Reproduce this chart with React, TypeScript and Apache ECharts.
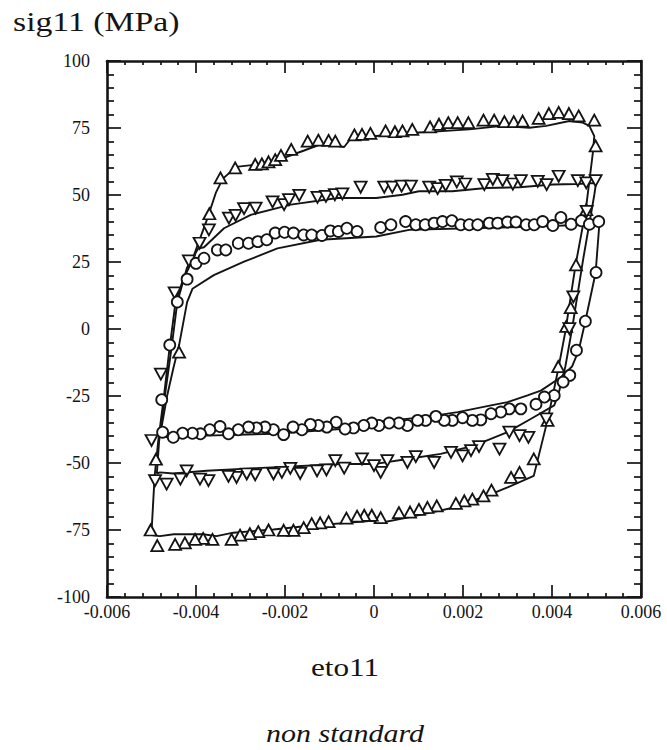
import React, { useEffect, useRef } from "react";
import * as echarts from "echarts";

// Strain eto11 (x) and stress sig11 in MPa (y)
const xTicks = [-0.006, -0.004, -0.002, 0, 0.002, 0.004, 0.006];
const yTicks = [-100, -75, -50, -25, 0, 25, 50, 75, 100];

// Simulation curves (solid lines)
const simA: [number, number][] = [
  [-0.005, -76], [-0.00493, -55], [-0.00485, -42], [-0.00472, -25], [-0.0046, -8],
  [-0.00446, 10], [-0.0043, 18], [-0.0041, 25], [-0.00397, 31], [-0.00375, 41],
  [-0.00355, 51], [-0.0034, 56], [-0.0031, 60.5], [-0.00262, 61.4], [-0.00202, 63.9],
  [-0.00157, 66.6], [-0.0012, 68.9], [-0.00082, 68.3], [-0.00067, 67.9], [-0.00048, 72],
  [0.00005, 72], [0.00101, 73.3], [0.00214, 74.5], [0.00289, 75.8], [0.00349, 75.1],
  [0.00387, 75.8], [0.00439, 77.6], [0.00469, 77], [0.00484, 75.8], [0.00495, 72],
  [0.00492, 66], [0.00476, 44.5], [0.00453, 23.9], [0.0043, -1], [0.00414, -15],
  [0.0039, -34], [0.00359, -54.8], [0.003, -59.1], [0.00263, -61.6], [0.0018, -66.6],
  [0.00075, -70.4], [0.00015, -72.3], [-0.00005, -71.6], [-0.0015, -73.5], [-0.00226, -74.8],
  [-0.00316, -76], [-0.00354, -77.3], [-0.00384, -76.6], [-0.0045, -76.6], [-0.00481, -77.3],
  [-0.00497, -77], [-0.005, -76]
];
const simB: [number, number][] = [
  [-0.00488, -54], [-0.00483, -42], [-0.0047, -25], [-0.00455, -7], [-0.00442, 10],
  [-0.0042, 23], [-0.00395, 30], [-0.00382, 30.5], [-0.00337, 37.6], [-0.00277, 42.6],
  [-0.00187, 46.4], [-0.00082, 48.9], [0.00005, 48.9], [0.00064, 50.1], [0.00101, 51.4],
  [0.00176, 51.4], [0.00252, 52.6], [0.00327, 52.9], [0.00402, 53.9], [0.00454, 54.1],
  [0.00499, 54.5], [0.00495, 50], [0.0047, 26], [0.00445, 0], [0.0043, -14],
  [0.00415, -24], [0.00405, -28.5], [0.00353, -33.5], [0.003, -38.5], [0.00225, -43.5],
  [0.0015, -46.6], [0.00075, -48.5], [0, -50.4], [-0.00076, -50.4], [-0.00151, -51],
  [-0.00264, -51.9], [-0.00376, -52.9], [-0.00451, -53.9], [-0.00481, -53.5], [-0.00488, -54]
];
const simC: [number, number][] = [
  [-0.0048, -39], [-0.00465, -25], [-0.0045, -14], [-0.00438, -6], [-0.0042, 10],
  [-0.00408, 15], [-0.0036, 20.1], [-0.00292, 25.1], [-0.00217, 30.1], [-0.0012, 33.3],
  [0.00005, 34.5], [0.00079, 37], [0.00214, 37.6], [0.00364, 38.2], [0.00469, 38.9],
  [0.00507, 40.4], [0.00498, 21], [0.00475, 3], [0.0046, -8], [0.00445, -14],
  [0.0042, -18], [0.00375, -23], [0.00345, -24.8], [0.003, -27.3], [0.00263, -28.5],
  [0.00188, -31], [0.00113, -32.9], [0.00038, -34.1], [0, -34.8], [-0.00076, -37.3],
  [-0.00226, -39.1], [-0.00376, -39.8], [-0.00466, -40.4], [-0.0048, -39]
];

// Experimental points
const expUp: [number, number][] = [
  [-0.00502, -75], [-0.0049, -48.6], [-0.00438, -8.6], [-0.0037, 43],
  [-0.00345, 56.4], [-0.00312, 60.1], [-0.00267, 61.4], [-0.00252, 61.6], [-0.00237, 62.4],
  [-0.00222, 63.2], [-0.00209, 64.8], [-0.00186, 67], [-0.00149, 70.1], [-0.00125, 70.5],
  [-0.00102, 70.4], [-0.00087, 70.1], [-0.00044, 72.4], [-0.00027, 72.6], [-0.00008, 73],
  [0.00026, 73.9], [0.00047, 73.6], [0.00064, 73.9], [0.00086, 74.5], [0.00126, 75.4],
  [0.00146, 76.4], [0.00167, 77], [0.00188, 77], [0.00212, 77], [0.00246, 77.9],
  [0.0027, 77.9], [0.00293, 77.4], [0.00314, 77.4], [0.00334, 77.6], [0.0037, 78.6],
  [0.00393, 80.4], [0.00415, 80.8], [0.00438, 80.4], [0.0046, 79.5], [0.00495, 77.9],
  [0.00498, 68.3], [0.00477, 44.5], [0.00454, 23.9], [0.00442, 8], [0.00432, 1],
  [0.00414, -14], [0.0039, -34.1], [0.00359, -48.5], [0.00327, -53.5], [0.00308, -55.4],
  [0.00264, -60.1], [0.00246, -62.3], [0.00221, -63.5], [0.00203, -64.1], [0.00184, -65.1],
  [0.00141, -66], [0.0012, -66.6], [0.00101, -67.3], [0.00081, -68.3], [0.00056, -68.5],
  [0.00015, -70.4], [-0.00005, -69.5], [-0.00022, -69.5], [-0.00038, -69.8], [-0.00062, -70.6],
  [-0.00102, -71.9], [-0.00121, -72.3], [-0.0014, -72.6], [-0.00158, -74.1], [-0.00181, -75.1],
  [-0.00203, -75.1], [-0.00237, -75], [-0.0026, -75.6], [-0.00279, -76.4], [-0.00301, -76.9],
  [-0.0032, -78.5], [-0.00363, -78.5], [-0.00384, -78.1], [-0.00402, -78.5], [-0.00425, -79.8],
  [-0.00447, -80.4], [-0.00487, -80.8]
];
const expDown: [number, number][] = [
  [-0.005, -41.6], [-0.00479, -16.8], [-0.00448, 13.5], [-0.00416, 25.4], [-0.00392, 32],
  [-0.00371, 37], [-0.00326, 41.4], [-0.00311, 42.4], [-0.00292, 44.9], [-0.00266, 45.1],
  [-0.00228, 47.4], [-0.00202, 46.4], [-0.00191, 48.3], [-0.00168, 49.9], [-0.00127, 49.1],
  [-0.00108, 49.5], [-0.00088, 50.1], [-0.00071, 50.4], [-0.0003, 52.9], [0.00023, 52.9],
  [0.00041, 52.9], [0.00062, 53.3], [0.00083, 53.3], [0.00124, 52.9], [0.00143, 52.4],
  [0.00161, 53.6], [0.00186, 54.9], [0.00205, 54.1], [0.00248, 53.9], [0.00267, 55.8],
  [0.00289, 55.4], [0.00312, 54.1], [0.0033, 55.4], [0.00368, 55.1], [0.00388, 53.9],
  [0.00415, 57], [0.00458, 55.4], [0.00477, 54.5], [0.00498, 55.4],
  [0.00478, 43.9], [0.00448, 12], [0.00439, 0.1],
  [0.00387, -33.5], [0.00347, -40.4], [0.00327, -39.8], [0.00304, -38.5], [0.00282, -44.8],
  [0.00236, -43.9], [0.00218, -45.4], [0.00199, -47.3], [0.00173, -46], [0.00135, -49.8],
  [0.00094, -47.6], [0.00075, -49.8], [0.0003, -49.1], [0.00015, -53.5],
  [0, -51], [-0.00027, -48.5], [-0.00067, -51.9], [-0.00087, -49.1], [-0.00107, -52.6],
  [-0.00128, -52.9], [-0.00166, -53.9], [-0.00188, -52], [-0.00207, -53.5], [-0.00226, -54.1],
  [-0.00267, -54.4], [-0.00286, -54.1], [-0.00309, -55.4], [-0.00327, -55], [-0.00372, -56.6],
  [-0.00391, -56], [-0.00421, -52.9], [-0.00435, -56], [-0.00466, -57.9], [-0.00492, -56.6]
];
const expCircle: [number, number][] = [
  [-0.00475, -38.5], [-0.00477, -26.4], [-0.00459, -6], [-0.00442, 10.1], [-0.0042, 18.6],
  [-0.004, 24.5], [-0.00382, 26.4], [-0.00352, 29.5], [-0.00333, 29.5], [-0.00305, 32],
  [-0.00282, 32], [-0.00261, 32.6], [-0.00241, 33.3], [-0.00222, 35.8], [-0.00201, 36.1],
  [-0.00181, 35.8], [-0.00158, 35.1], [-0.0014, 35.1], [-0.00117, 34.9], [-0.00098, 36.6],
  [-0.0008, 36.4], [-0.00061, 37.6], [-0.00038, 36.4],
  [0.00015, 37.9], [0.00038, 38.9], [0.00071, 40.1], [0.00094, 38.9], [0.00115, 38.9],
  [0.00135, 39.5], [0.00154, 40.1], [0.00175, 40.4], [0.00195, 38.9], [0.00214, 38.9],
  [0.00233, 38.9], [0.00259, 39.5], [0.00278, 39.5], [0.003, 39.9], [0.00319, 39.9],
  [0.00342, 38.9], [0.0036, 38.9], [0.00379, 40.1], [0.00402, 38.6], [0.0042, 41.6],
  [0.00443, 39.1], [0.00466, 40.4], [0.00484, 39.1], [0.00505, 40.1],
  [0.00499, 21.1], [0.00475, 2.9], [0.00455, -7.9], [0.0044, -17.3], [0.00425, -19.8],
  [0.00405, -24.8], [0.00383, -25.4], [0.00364, -28.1], [0.0033, -29.8], [0.00304, -29.8],
  [0.00285, -31], [0.00263, -31.6], [0.0024, -33.9], [0.00221, -34.1], [0.00199, -33.1],
  [0.00176, -34.1], [0.00158, -34.1], [0.00139, -32.6], [0.00116, -34.1], [0.00098, -34.1],
  [0.00075, -36], [0.00056, -35.1], [0.00034, -35.1], [0.00011, -36], [-0.00005, -35.1],
  [-0.00023, -36], [-0.00046, -36.9], [-0.00065, -37.3], [-0.00085, -34.8], [-0.00106, -36.6],
  [-0.00125, -36], [-0.00143, -35.6], [-0.00162, -37.6], [-0.00182, -36.6], [-0.00203, -39.4],
  [-0.00226, -37.6], [-0.00245, -36.6], [-0.00264, -36.9], [-0.00282, -36.6], [-0.00305, -37.6],
  [-0.00327, -39.1], [-0.00346, -36.4], [-0.00369, -37.6], [-0.0039, -39.1], [-0.00408, -38.9],
  [-0.0043, -38.9], [-0.00451, -40.4]
];

const INK = "#141414";
const FONT = "'Liberation Serif', 'DejaVu Serif', serif";

function fmtX(v: number) {
  if (Math.abs(v) < 1e-9) return "0";
  return v.toFixed(3);
}

function makeX(position: "bottom" | "top", showLabel: boolean) {
  return {
    type: "value",
    position,
    min: xTicks[0],
    max: xTicks[xTicks.length - 1],
    interval: xTicks[1] - xTicks[0],
    axisLine: { show: true, onZero: false, lineStyle: { color: INK, width: 2.6 } },
    axisTick: { show: true, inside: true, length: 12, lineStyle: { color: INK, width: 1.7 } },
    minorTick: { show: true, splitNumber: 5, length: 4, lineStyle: { color: INK, width: 1.7 } },
    splitLine: { show: false },
    minorSplitLine: { show: false },
    axisLabel: {
      show: showLabel,
      margin: 6,
      color: INK,
      fontFamily: FONT,
      fontSize: 18,
      formatter: fmtX,
    },
  };
}

function makeY(position: "left" | "right", showLabel: boolean) {
  return {
    type: "value",
    position,
    min: yTicks[0],
    max: yTicks[yTicks.length - 1],
    interval: yTicks[1] - yTicks[0],
    axisLine: { show: true, onZero: false, lineStyle: { color: INK, width: 2.6 } },
    axisTick: { show: true, inside: true, length: 14, lineStyle: { color: INK, width: 1.7 } },
    minorTick: { show: true, splitNumber: 5, length: 7, lineStyle: { color: INK, width: 1.7 } },
    splitLine: { show: false },
    minorSplitLine: { show: false },
    axisLabel: {
      show: showLabel,
      margin: 17,
      color: INK,
      fontFamily: FONT,
      fontSize: 18,
    },
  };
}

const markerStyle = { color: "#ffffff", borderColor: INK, borderWidth: 1.8, opacity: 1 };
const lineStyle = { color: INK, width: 1.9 };

export default function App() {
  const ref = useRef<HTMLDivElement>(null);
  useEffect(() => {
    if (!ref.current) return;
    const chart = echarts.init(ref.current, undefined, { renderer: "svg" });
    chart.setOption({
      animation: false,
      backgroundColor: "#ffffff",
      grid: { left: 107, right: 26, top: 61, bottom: 153 },
      xAxis: [makeX("bottom", true), makeX("top", false)],
      yAxis: [makeY("left", true), makeY("right", false)],
      series: [
        { type: "line", name: "simA", data: simA, showSymbol: false, symbol: "none", lineStyle, z: 2 },
        { type: "line", name: "simB", data: simB, showSymbol: false, symbol: "none", lineStyle, z: 2 },
        { type: "line", name: "simC", data: simC, showSymbol: false, symbol: "none", lineStyle, z: 2 },
        { type: "scatter", name: "expA", data: expUp, symbol: "triangle", symbolSize: [12, 11], itemStyle: markerStyle, z: 3 },
        { type: "scatter", name: "expB", data: expDown, symbol: "triangle", symbolRotate: 180, symbolSize: [12, 11], itemStyle: markerStyle, z: 3 },
        { type: "scatter", name: "expC", data: expCircle, symbol: "circle", symbolSize: 11, itemStyle: markerStyle, z: 3 },
      ],
      graphic: [
        {
          type: "text",
          x: 13,
          y: 36,
          scaleX: 1.25,
          style: { text: "sig11 (MPa)", font: `27px ${FONT}`, fill: INK, textAlign: "left", textVerticalAlign: "bottom" },
        },
        {
          type: "text",
          x: 345,
          y: 680,
          scaleX: 1.2,
          style: { text: "eto11", font: `26px ${FONT}`, fill: INK, textAlign: "center", textVerticalAlign: "bottom" },
        },
        {
          type: "text",
          x: 345,
          y: 746,
          scaleX: 1.2,
          style: { text: "non standard", font: `italic 25px ${FONT}`, fill: INK, textAlign: "center", textVerticalAlign: "bottom" },
        },
      ],
    });
    return () => chart.dispose();
  }, []);
  return (
    <div
      ref={ref}
      style={{ position: "fixed", left: 0, top: 0, width: 667, height: 750, background: "#fff" }}
    />
  );
}
